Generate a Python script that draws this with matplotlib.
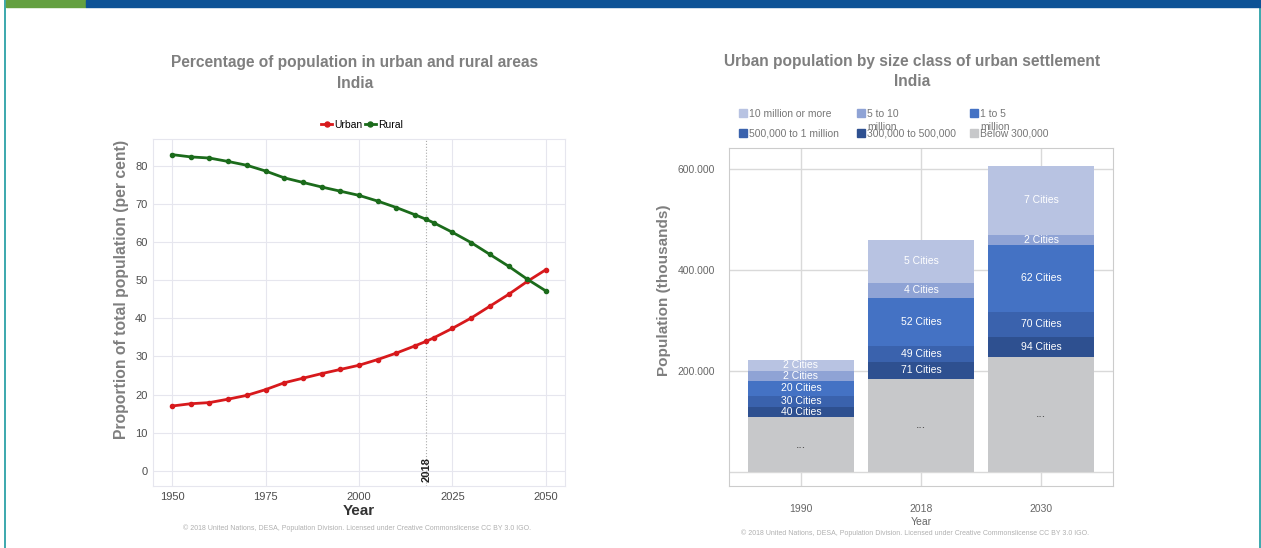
import numpy as np
import matplotlib.pyplot as plt
from matplotlib.patches import Rectangle

plt.rcParams['font.family'] = ['Liberation Sans', 'DejaVu Sans']

# left chart: percentage urban / rural
years = [1950, 1955, 1960, 1965, 1970, 1975, 1980, 1985, 1990, 1995, 2000,
         2005, 2010, 2015, 2018, 2020, 2025, 2030, 2035, 2040, 2045, 2050]
urban = [17.0, 17.6, 17.9, 18.8, 19.8, 21.3, 23.1, 24.3, 25.5, 26.6, 27.7,
         29.2, 30.9, 32.8, 34.0, 34.9, 37.4, 40.1, 43.2, 46.3, 49.7, 52.8]
rural = [83.0, 82.4, 82.1, 81.2, 80.2, 78.7, 76.9, 75.7, 74.5, 73.4, 72.3,
         70.8, 69.1, 67.2, 66.0, 65.1, 62.6, 59.9, 56.8, 53.7, 50.3, 47.2]

# right chart: urban population by size class (thousands)
bar_years = ['1990', '2018', '2030']
classes = ['Below 300,000', '300,000 to 500,000', '500,000 to 1 million',
           '1 to 5\nmillion', '5 to 10\nmillion', '10 million or more']
below_300k = [108.0, 184.8, 228.3]
k300_500 = [21.3, 33.6, 39.7]
k500_1m = [21.7, 31.7, 49.4]
m1_5 = [29.8, 95.0, 132.7]
m5_10 = [19.8, 29.7, 19.9]
m10_plus = [21.8, 85.2, 136.5]
city_counts = [
    ['...', '...', '...'],
    ['40 Cities', '71 Cities', '94 Cities'],
    ['30 Cities', '49 Cities', '70 Cities'],
    ['20 Cities', '52 Cities', '62 Cities'],
    ['2 Cities', '4 Cities', '2 Cities'],
    ['2 Cities', '5 Cities', '7 Cities'],
]
seg_colors = ['#c7c8ca', '#2e5090', '#3a62ad', '#4472c4', '#8fa3d5', '#b8c3e2']

W, H = 1261, 548
fig = plt.figure(figsize=(W / 100, H / 100), dpi=100)


def px(x0, y0, x1, y1):
    return [x0 / W, 1 - y1 / H, (x1 - x0) / W, (y1 - y0) / H]


# page decoration
fig.patches.append(Rectangle((6 / W, 1 - 7 / H), 80 / W, 7 / H, transform=fig.transFigure,
                             color='#64a040', zorder=5))
fig.patches.append(Rectangle((86 / W, 1 - 7 / H), 1175 / W, 7 / H, transform=fig.transFigure,
                             color='#0d5296', zorder=5))
fig.lines.append(plt.Line2D([5 / W, 5 / W], [0, 1], transform=fig.transFigure,
                            color='#1a9aa0', lw=1.2))
fig.lines.append(plt.Line2D([1259.5 / W, 1259.5 / W], [0, 1 - 7 / H], transform=fig.transFigure,
                            color='#1a9aa0', lw=1.2))

# ---- left chart ----
ax1 = fig.add_axes(px(153, 139, 565, 486))
ax1.plot(years, urban, color='#d7191c', lw=2, marker='o', ms=3, label='Urban', zorder=3)
ax1.plot(years, rural, color='#1b6b1b', lw=2, marker='o', ms=3, label='Rural', zorder=3)
ax1.axvline(2018, color='#aaaaaa', lw=0.8, ls=':', zorder=2)
ax1.text(2018, 0.3, '2018', rotation=90, ha='center', va='center', fontsize=8,
         fontweight='bold', color='#222222')
ax1.set_xlim(1944.9, 2055.1)
ax1.set_ylim(-4.0, 87.1)
ax1.set_xticks([1950, 1975, 2000, 2025, 2050])
ax1.set_yticks([0, 10, 20, 30, 40, 50, 60, 70, 80])
ax1.grid(True, color='#e6e6ee', lw=0.8)
ax1.set_axisbelow(True)
for s in ax1.spines.values():
    s.set_color('#e6e6ee')
ax1.tick_params(length=0, labelsize=8, colors='#4d4d4d', pad=4)
ax1.set_xlabel('Year', fontsize=11, fontweight='bold', color='#333333', labelpad=2)
ax1.set_ylabel('Proportion of total population (per cent)', fontsize=11.3,
               fontweight='bold', color='#7f7f7f')
ax1.yaxis.set_label_coords(-24 / 412, (486 - 289) / 347)
ax1.legend(loc='center', bbox_to_anchor=(362 / W, 1 - 125 / H), bbox_transform=fig.transFigure,
           ncol=2, frameon=False, fontsize=7.5, handlelength=1.0, handletextpad=0.2,
           columnspacing=0.3, markerscale=1.2)
fig.text(355 / W, 1 - 63 / H, 'Percentage of population in urban and rural areas',
         ha='center', va='center', fontsize=11.2, fontweight='bold', color='#7f7f7f')
fig.text(355 / W, 1 - 83 / H, 'India', ha='center', va='center', fontsize=11.2,
         fontweight='bold', color='#7f7f7f')
fig.text(357 / W, 1 - 528 / H, '© 2018 United Nations, DESA, Population Division. '
         'Licensed under Creative Commonslicense CC BY 3.0 IGO.',
         ha='center', va='center', fontsize=5, color='#b0b0b0')

# ---- right chart ----
ax2 = fig.add_axes(px(729, 148, 1113, 486))
x = np.arange(len(bar_years))
series = [below_300k, k300_500, k500_1m, m1_5, m5_10, m10_plus]
bottom = np.zeros(len(bar_years))
for vals, col, labels in zip(series, seg_colors, city_counts):
    vals = np.array(vals)
    ax2.bar(x, vals, 0.89, bottom=bottom, color=col, zorder=2)
    for xi, b, v, lab in zip(x, bottom, vals, labels):
        if lab == '...':
            ax2.text(xi, b + v / 2, lab, ha='center', va='center', fontsize=9,
                     color='#444444', zorder=3)
        else:
            ax2.text(xi, b + v / 2, lab, ha='center', va='center', fontsize=7.5,
                     color='white', zorder=3)
    bottom += vals
ax2.set_xlim(-0.6, 2.6)
ax2.set_ylim(-28, 642)
ax2.set_yticks([0, 200, 400, 600])
ax2.set_yticklabels(['', '200.000', '400.000', '600.000'])
ax2.set_xticks(x)
ax2.set_xticklabels(bar_years)
ax2.grid(True, color='#d9d9d9', lw=1)
ax2.set_axisbelow(True)
for s in ax2.spines.values():
    s.set_color('#cccccc')
ax2.tick_params(length=0, labelsize=7.5, colors='#666666')
ax2.tick_params(axis='x', pad=13)
ax2.tick_params(axis='y', pad=10)
ax2.set_xlabel('Year', fontsize=7.5, color='#666666', labelpad=2)
ax2.set_ylabel('Population (thousands)', fontsize=11, fontweight='bold',
               color='#7f7f7f')
ax2.yaxis.set_label_coords(-58 / 384, (486 - 290) / 338)
fig.text(912 / W, 1 - 61 / H, 'Urban population by size class of urban settlement',
         ha='center', va='center', fontsize=11.2, fontweight='bold', color='#7f7f7f')
fig.text(912 / W, 1 - 82 / H, 'India', ha='center', va='center', fontsize=11.2,
         fontweight='bold', color='#7f7f7f')
fig.text(915 / W, 1 - 533 / H, '© 2018 United Nations, DESA, Population Division. '
         'Licensed under Creative Commonslicense CC BY 3.0 IGO.',
         ha='center', va='center', fontsize=5, color='#b0b0b0')

# right legend, drawn by hand to mimic the wrapped labels
leg_items = [(739, 113, classes[5], seg_colors[5]), (857, 113, classes[4], seg_colors[4]),
             (970, 113, classes[3], seg_colors[3]), (739, 133, classes[2], seg_colors[2]),
             (857, 133, classes[1], seg_colors[1]), (970, 133, classes[0], seg_colors[0])]
for lx, ly, lab, col in leg_items:
    fig.patches.append(Rectangle((lx / W, 1 - (ly + 4) / H), 8 / W, 8 / H,
                                 transform=fig.transFigure, color=col))
    fig.text((lx + 10) / W, 1 - (ly - 4) / H, lab, ha='left', va='top', fontsize=7.5,
             color='#777777', linespacing=1.35)

fig.savefig('out.png', dpi=100)
